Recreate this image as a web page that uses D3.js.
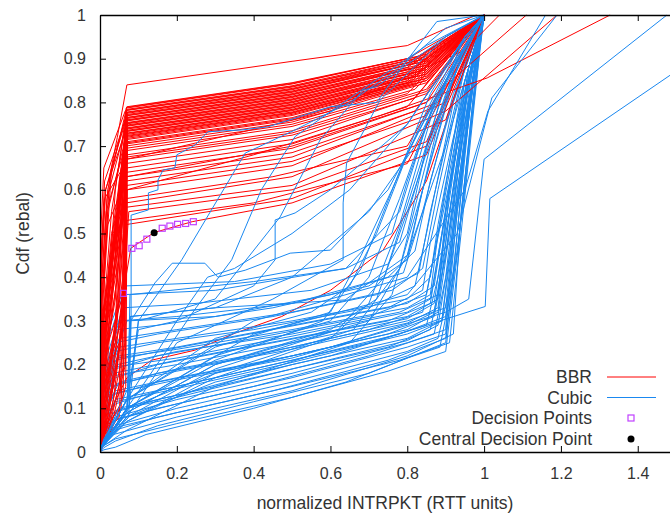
<!DOCTYPE html>
<html>
<head>
<meta charset="utf-8">
<script src="https://cdn.jsdelivr.net/npm/d3@7"></script>
<style>
  html, body { margin: 0; padding: 0; background: #fff; }
  svg { display: block; }
  text { font-family: "Liberation Sans", Arial, sans-serif; }
</style>
</head>
<body>
<svg id="chart" width="670" height="515"></svg>
<script>
// ---------- data ----------
const xTickValues = [0, 0.2, 0.4, 0.6, 0.8, 1, 1.2, 1.4];
const yTickValues = [0, 0.1, 0.2, 0.3, 0.4, 0.5, 0.6, 0.7, 0.8, 0.9, 1];
const xLabel = "normalized INTRPKT (RTT units)";
const yLabel = "Cdf (rebal)";
const seriesNames = ["BBR", "Cubic", "Decision Points", "Central Decision Point"];

// BBR curves lying inside the Cubic band (drawn first), flat [x,y,...]
const bbrLowCurves = [
  [0,0, 0.03,0.1, 0.07,0.17, 0.134,0.21, 0.247,0.233, 0.352,0.272, 0.473,0.31, 0.6,0.37, 0.737,0.462, 0.85,0.62, 0.95,0.88, 1,1]
];

// Cubic curves of the main band, flat [x,y,...]
const cubicBandCurves = [
  [0,0, 0.01,0.005, 0.04,0.011, 0.12,0.04, 0.4,0.1, 0.64,0.16, 0.8,0.215, 0.885,0.24, 0.92,0.4, 0.96,0.8, 1,1],
  [0,0, 0.01,0.01, 0.04,0.025, 0.15,0.06, 0.4,0.115, 0.7,0.18, 0.9,0.25, 0.93,0.5, 0.97,0.85, 1,1],
  [0,0, 0.01,0.015, 0.035,0.04, 0.2,0.08, 0.5,0.14, 0.8,0.22, 0.92,0.27, 0.94,0.55, 1,1],
  [0,0, 0.008,0.02, 0.04,0.05, 0.15,0.08, 0.45,0.14, 0.75,0.21, 0.9,0.26, 0.95,0.6, 0.99,0.95, 1,1],
  [0,0, 0.01,0.03, 0.04,0.06, 0.2,0.1, 0.5,0.16, 0.8,0.23, 0.88,0.26, 0.93,0.45, 0.97,0.8, 1,1],
  [0,0, 0.006,0.03, 0.03,0.07, 0.15,0.1, 0.4,0.15, 0.7,0.22, 0.87,0.27, 0.9,0.4, 0.96,0.85, 1,1],
  [0,0, 0.01,0.04, 0.04,0.08, 0.2,0.12, 0.5,0.18, 0.8,0.25, 0.9,0.28, 0.92,0.5, 0.98,0.9, 1,1],
  [0,0, 0.008,0.05, 0.035,0.09, 0.15,0.12, 0.45,0.18, 0.75,0.24, 0.86,0.28, 0.9,0.45, 0.95,0.75, 1,1],
  [0,0, 0.01,0.05, 0.05,0.1, 0.2,0.13, 0.5,0.2, 0.8,0.26, 0.89,0.3, 0.93,0.6, 1,1],
  [0,0, 0.007,0.06, 0.04,0.11, 0.15,0.14, 0.4,0.19, 0.7,0.25, 0.85,0.29, 0.88,0.4, 0.94,0.7, 1,1],
  [0,0, 0.01,0.06, 0.04,0.12, 0.2,0.15, 0.5,0.21, 0.78,0.27, 0.9,0.31, 0.93,0.55, 0.98,0.9, 1,1],
  [0,0, 0.008,0.07, 0.03,0.13, 0.15,0.16, 0.45,0.21, 0.75,0.27, 0.87,0.31, 0.9,0.45, 0.96,0.85, 1,1],
  [0,0, 0.01,0.08, 0.04,0.14, 0.2,0.17, 0.5,0.22, 0.8,0.28, 0.88,0.32, 0.91,0.5, 0.97,0.88, 1,1],
  [0,0, 0.006,0.08, 0.035,0.15, 0.15,0.18, 0.4,0.22, 0.7,0.28, 0.84,0.32, 0.87,0.45, 0.93,0.7, 1,1],
  [0,0, 0.01,0.09, 0.05,0.16, 0.2,0.19, 0.5,0.24, 0.8,0.3, 0.9,0.33, 0.92,0.5, 0.98,0.92, 1,1],
  [0,0, 0.008,0.1, 0.04,0.17, 0.15,0.2, 0.45,0.25, 0.75,0.3, 0.86,0.34, 0.89,0.5, 0.95,0.8, 1,1],
  [0,0, 0.01,0.1, 0.035,0.18, 0.2,0.21, 0.5,0.26, 0.8,0.31, 0.88,0.35, 0.9,0.55, 0.97,0.9, 1,1],
  [0,0, 0.007,0.11, 0.04,0.19, 0.15,0.22, 0.4,0.26, 0.7,0.31, 0.85,0.36, 0.88,0.5, 0.94,0.78, 1,1],
  [0,0, 0.01,0.12, 0.045,0.2, 0.2,0.23, 0.5,0.27, 0.78,0.32, 0.88,0.36, 0.91,0.6, 0.98,0.95, 1,1],
  [0,0, 0.008,0.13, 0.04,0.21, 0.15,0.23, 0.45,0.28, 0.75,0.33, 0.84,0.37, 0.86,0.48, 0.92,0.72, 1,1],
  [0,0, 0.01,0.14, 0.05,0.22, 0.2,0.24, 0.5,0.29, 0.8,0.34, 0.87,0.38, 0.9,0.55, 0.96,0.88, 1,1],
  [0,0, 0.006,0.14, 0.04,0.23, 0.15,0.25, 0.4,0.28, 0.7,0.33, 0.82,0.38, 0.85,0.5, 0.92,0.8, 1,1],
  [0,0, 0.01,0.15, 0.05,0.24, 0.2,0.26, 0.5,0.3, 0.8,0.35, 0.86,0.4, 0.88,0.52, 0.95,0.85, 1,1],
  [0,0, 0.008,0.16, 0.04,0.25, 0.15,0.27, 0.45,0.31, 0.72,0.36, 0.83,0.41, 0.86,0.55, 0.94,0.85, 1,1],
  [0,0, 0.01,0.17, 0.05,0.26, 0.2,0.28, 0.5,0.32, 0.76,0.37, 0.84,0.42, 0.88,0.6, 0.96,0.92, 1,1],
  [0,0, 0.008,0.17, 0.045,0.28, 0.15,0.29, 0.45,0.33, 0.7,0.38, 0.8,0.44, 0.84,0.6, 0.93,0.88, 1,1],
  [0,0, 0.01,0.18, 0.05,0.3, 0.2,0.31, 0.5,0.34, 0.75,0.4, 0.82,0.46, 0.86,0.62, 0.95,0.9, 1,1],
  [0,0, 0.01,0.2, 0.06,0.33, 0.25,0.34, 0.55,0.37, 0.75,0.43, 0.8,0.5, 0.85,0.7, 0.95,0.92, 1,1],
  [0,0, 0.008,0.22, 0.06,0.36, 0.3,0.37, 0.64,0.42, 0.78,0.48, 0.82,0.6, 0.9,0.85, 1,1],
  [0,0, 0.01,0.25, 0.065,0.38, 0.35,0.39, 0.6,0.43, 0.76,0.5, 0.8,0.62, 0.88,0.82, 1,1],
  [0,0, 0.01,0.15, 0.07,0.3, 0.3,0.31, 0.6,0.36, 0.79,0.41, 0.84,0.55, 0.92,0.82, 1,1],
  [0,0, 0.005,0.012, 0.04,0.03, 0.2,0.065, 0.5,0.125, 0.75,0.185, 0.9,0.23, 0.93,0.45, 0.98,0.88, 1,1],
  [0,0, 0.005,0.025, 0.035,0.055, 0.2,0.09, 0.5,0.15, 0.78,0.21, 0.91,0.25, 0.94,0.5, 0.99,0.93, 1,1],
  [0,0, 0.005,0.04, 0.04,0.075, 0.2,0.11, 0.5,0.17, 0.8,0.24, 0.9,0.27, 0.93,0.55, 0.98,0.9, 1,1],
  [0,0, 0.005,0.05, 0.04,0.095, 0.2,0.125, 0.5,0.19, 0.8,0.255, 0.88,0.29, 0.91,0.45, 0.96,0.8, 1,1],
  [0,0, 0.005,0.07, 0.04,0.115, 0.2,0.145, 0.5,0.205, 0.8,0.27, 0.89,0.3, 0.92,0.5, 0.97,0.85, 1,1],
  [0,0, 0.005,0.08, 0.04,0.135, 0.2,0.165, 0.5,0.215, 0.8,0.29, 0.87,0.32, 0.9,0.48, 0.96,0.86, 1,1],
  [0,0, 0.005,0.1, 0.04,0.155, 0.2,0.185, 0.5,0.235, 0.8,0.295, 0.88,0.33, 0.91,0.55, 0.97,0.9, 1,1],
  [0,0, 0.005,0.11, 0.04,0.175, 0.2,0.2, 0.5,0.25, 0.8,0.305, 0.87,0.34, 0.9,0.52, 0.96,0.88, 1,1],
  [0,0, 0.005,0.13, 0.04,0.195, 0.2,0.215, 0.5,0.265, 0.8,0.32, 0.86,0.35, 0.89,0.5, 0.95,0.85, 1,1],
  [0,0, 0.005,0.15, 0.045,0.215, 0.2,0.235, 0.5,0.28, 0.8,0.33, 0.86,0.36, 0.88,0.5, 0.94,0.82, 1,1]
];

// BBR curves, flat [x,y,...]
const bbrCurves = [
  [0,0, 0.003,0.3, 0.02,0.6, 0.07,0.79, 0.5,0.845, 0.8,0.9, 1,1],
  [0,0, 0.02,0.08, 0.06,0.3, 0.068,0.787, 0.5,0.842, 0.85,0.91, 1,1],
  [0,0, 0.008,0.15, 0.04,0.45, 0.069,0.784, 0.5,0.838, 0.82,0.9, 1,1],
  [0,0, 0.002,0.5, 0.01,0.65, 0.066,0.781, 0.5,0.835, 0.85,0.905, 1,1],
  [0,0, 0.004,0.25, 0.03,0.55, 0.071,0.778, 0.5,0.832, 0.8,0.89, 1,1],
  [0,0, 0.03,0.1, 0.065,0.25, 0.07,0.775, 0.5,0.829, 0.85,0.9, 1,1],
  [0,0, 0.01,0.2, 0.05,0.5, 0.068,0.772, 0.5,0.826, 0.82,0.89, 1,1],
  [0,0, 0.002,0.4, 0.015,0.6, 0.067,0.769, 0.5,0.823, 0.85,0.895, 1,1],
  [0,0, 0.005,0.2, 0.035,0.5, 0.072,0.766, 0.5,0.82, 0.8,0.88, 1,1],
  [0,0, 0.025,0.06, 0.062,0.2, 0.07,0.763, 0.5,0.817, 0.85,0.89, 1,1],
  [0,0, 0.007,0.3, 0.045,0.55, 0.069,0.76, 0.5,0.814, 0.82,0.88, 1,1],
  [0,0, 0.003,0.45, 0.012,0.62, 0.065,0.757, 0.5,0.811, 0.85,0.885, 1,1],
  [0,0, 0.006,0.18, 0.03,0.42, 0.071,0.754, 0.5,0.808, 0.8,0.87, 1,1],
  [0,0, 0.035,0.12, 0.066,0.35, 0.07,0.751, 0.5,0.805, 0.85,0.88, 1,1],
  [0,0, 0.009,0.25, 0.05,0.6, 0.068,0.748, 0.5,0.802, 0.82,0.87, 1,1],
  [0,0, 0.002,0.35, 0.018,0.58, 0.067,0.745, 0.5,0.799, 0.85,0.875, 1,1],
  [0,0, 0.005,0.22, 0.04,0.48, 0.072,0.742, 0.5,0.796, 0.8,0.86, 1,1],
  [0,0, 0.02,0.1, 0.058,0.28, 0.07,0.739, 0.5,0.793, 0.85,0.87, 1,1],
  [0,0, 0.007,0.28, 0.035,0.52, 0.069,0.736, 0.5,0.79, 0.82,0.86, 1,1],
  [0,0, 0.003,0.42, 0.014,0.6, 0.066,0.733, 0.5,0.787, 0.85,0.865, 1,1],
  [0,0, 0.006,0.16, 0.045,0.4, 0.071,0.73, 0.5,0.784, 0.8,0.85, 1,1],
  [0,0, 0.04,0.07, 0.067,0.15, 0.072,0.727, 0.5,0.781, 0.85,0.86, 1,1],
  [0,0, 0.01,0.3, 0.05,0.55, 0.068,0.724, 0.5,0.778, 0.82,0.85, 1,1],
  [0,0, 0.002,0.3, 0.02,0.55, 0.067,0.72, 0.5,0.775, 0.85,0.855, 1,1],
  [0,0, 0.005,0.2, 0.03,0.45, 0.07,0.715, 0.5,0.77, 0.8,0.84, 1,1],
  [0,0, 0.03,0.15, 0.064,0.4, 0.07,0.71, 0.5,0.765, 0.85,0.85, 1,1],
  [0,0, 0.008,0.25, 0.04,0.5, 0.069,0.705, 0.5,0.76, 0.82,0.84, 1,1],
  [0,0, 0.003,0.38, 0.016,0.55, 0.066,0.70, 0.5,0.755, 0.85,0.845, 1,1],
  [0,0, 0.006,0.2, 0.035,0.45, 0.071,0.69, 0.5,0.745, 0.8,0.82, 1,1],
  [0,0, 0.015,0.05, 0.06,0.12, 0.07,0.68, 0.5,0.735, 0.85,0.83, 1,1],
  [0,0, 0.007,0.3, 0.04,0.52, 0.068,0.67, 0.5,0.725, 0.82,0.81, 1,1],
  [0,0, 0.002,0.45, 0.012,0.58, 0.066,0.66, 0.5,0.715, 0.85,0.82, 1,1],
  [0,0, 0.005,0.15, 0.045,0.4, 0.07,0.65, 0.5,0.705, 0.8,0.79, 1,1],
  [0,0, 0.025,0.1, 0.063,0.3, 0.069,0.64, 0.5,0.695, 0.85,0.8, 1,1],
  [0,0, 0.008,0.28, 0.03,0.5, 0.068,0.63, 0.5,0.685, 0.82,0.78, 1,1],
  [0,0, 0.003,0.35, 0.02,0.52, 0.067,0.62, 0.5,0.675, 0.88,0.8, 1,1],
  [0,0, 0.006,0.2, 0.04,0.45, 0.07,0.61, 0.5,0.665, 0.85,0.77, 1,1],
  [0,0, 0.035,0.08, 0.066,0.2, 0.071,0.60, 0.5,0.655, 0.9,0.8, 1,1],
  [0,0, 0.009,0.25, 0.045,0.45, 0.069,0.58, 0.45,0.63, 0.8,0.70, 1,1],
  [0,0, 0.004,0.3, 0.03,0.45, 0.068,0.56, 0.5,0.61, 0.9,0.76, 1,1],
  [0,0, 0.02,0.12, 0.06,0.35, 0.075,0.55, 0.5,0.6, 0.85,0.71, 1,1],
  [0,0, 0.004,0.2, 0.05,0.33, 0.06,0.36, 0.08,0.466, 0.14,0.502, 0.24,0.527, 0.5,0.57, 0.85,0.68, 1,1],
  [0,0, 0.005,0.3, 0.025,0.63, 0.045,0.72, 0.07,0.84, 0.5,0.894, 0.8,0.93, 0.98,1],
  [0,0, 0.005,0.3, 0.04,0.5, 0.07,0.6, 0.4,0.68, 0.73,0.77, 1.008,0.856, 1.328,1],
  [0,0, 0.004,0.25, 0.05,0.5, 0.07,0.63, 0.5,0.7, 0.85,0.8, 1.11,1],
  [0,0, 0.003,0.2, 0.03,0.45, 0.068,0.57, 0.5,0.63, 0.9,0.78, 1.19,1],
  [0,0, 0.006,0.3, 0.05,0.55, 0.07,0.67, 0.6,0.78, 0.95,0.92, 1.04,1],
  [0,0, 0.01,0.06, 0.055,0.1, 0.065,0.52, 0.5,0.58, 0.85,0.7, 1,1],
  [0,0, 0.012,0.04, 0.05,0.08, 0.07,0.53, 0.4,0.57, 0.8,0.66, 1,1],
  [0,0, 0.01,0.05, 0.03,0.2, 0.05,0.4, 0.069,0.7885, 0.5,0.8435, 0.83,0.905, 1,1],
  [0,0, 0.015,0.15, 0.045,0.3, 0.06,0.5, 0.07,0.7825, 0.5,0.8365, 0.85,0.9, 1,1],
  [0,0, 0.005,0.08, 0.02,0.35, 0.04,0.6, 0.068,0.7765, 0.5,0.8305, 0.8,0.885, 1,1],
  [0,0, 0.025,0.2, 0.05,0.25, 0.065,0.45, 0.071,0.7705, 0.5,0.8245, 0.85,0.895, 1,1],
  [0,0, 0.01,0.1, 0.04,0.3, 0.055,0.55, 0.068,0.7645, 0.5,0.8185, 0.82,0.88, 1,1],
  [0,0, 0.012,0.4, 0.03,0.65, 0.067,0.7585, 0.5,0.8125, 0.85,0.885, 1,1],
  [0,0, 0.05,0.15, 0.06,0.45, 0.07,0.7525, 0.5,0.8065, 0.8,0.865, 1,1],
  [0,0, 0.02,0.25, 0.04,0.35, 0.055,0.65, 0.069,0.7465, 0.5,0.8005, 0.85,0.875, 1,1],
  [0,0, 0.008,0.06, 0.035,0.25, 0.06,0.4, 0.07,0.7405, 0.5,0.7945, 0.82,0.86, 1,1],
  [0,0, 0.018,0.18, 0.05,0.35, 0.066,0.55, 0.071,0.7345, 0.5,0.7885, 0.85,0.865, 1,1],
  [0,0, 0.006,0.1, 0.025,0.3, 0.045,0.5, 0.068,0.7285, 0.5,0.7825, 0.8,0.845, 1,1],
  [0,0, 0.03,0.22, 0.055,0.3, 0.067,0.5, 0.07,0.7225, 0.5,0.7765, 0.85,0.855, 1,1],
  [0,0, 0.012,0.12, 0.035,0.38, 0.05,0.62, 0.069,0.7175, 0.5,0.7725, 0.82,0.845, 1,1],
  [0,0, 0.045,0.2, 0.062,0.35, 0.07,0.7075, 0.5,0.7625, 0.85,0.85, 1,1],
  [0,0, 0.02,0.3, 0.05,0.45, 0.068,0.695, 0.5,0.75, 0.82,0.83, 1,1],
  [0,0, 0.01,0.15, 0.04,0.25, 0.06,0.55, 0.07,0.675, 0.5,0.73, 0.85,0.825, 1,1]
];

// Cubic curves outside the main band (drawn last), flat [x,y,...]
const cubicUpperCurves = [
  [0,0, 0.002,0.01, 0.075,0.08, 0.081,0.3, 0.081,0.542, 0.126,0.554, 0.126,0.593, 0.151,0.6, 0.151,0.622, 0.164,0.645, 0.195,0.65, 0.2,0.68, 0.247,0.702, 0.281,0.733, 0.369,0.737, 0.437,0.744, 0.508,0.764, 0.6,0.79, 0.72,0.8, 0.807,0.905, 0.877,0.985, 1,1],
  [0,0, 0.002,0.01, 0.075,0.1, 0.1,0.3, 0.213,0.44, 0.326,0.607, 0.378,0.684, 0.508,0.737, 0.65,0.8, 0.78,0.88, 0.9,0.97, 1,1],
  [0,0, 0.002,0.01, 0.07,0.12, 0.2,0.3, 0.4,0.38, 0.456,0.44, 0.456,0.531, 0.508,0.547, 0.6,0.6, 0.8,0.75, 0.95,0.95, 1,1],
  [0,0, 0.002,0.01, 0.075,0.15, 0.08,0.3, 0.143,0.387, 0.188,0.432, 0.273,0.432, 0.307,0.4, 0.378,0.416, 0.495,0.455, 0.6,0.462, 0.75,0.6, 0.9,0.85, 1,1],
  [0,0, 0.002,0.01, 0.07,0.1, 0.1,0.3, 0.3,0.35, 0.469,0.538, 0.573,0.714, 0.685,0.828, 0.72,0.836, 0.9,0.95, 1,1],
  [0,0, 0.002,0.01, 0.07,0.08, 0.2,0.25, 0.45,0.35, 0.633,0.44, 0.633,0.57, 0.642,0.661, 0.729,0.805, 0.9,0.95, 1,1],
  [0,0, 0.002,0.01, 0.072,0.1, 0.078,0.36, 0.4,0.39, 0.64,0.42, 0.78,0.55, 0.85,0.75, 0.95,0.95, 1,1],
  [0,0, 0.002,0.01, 0.07,0.1, 0.08,0.31, 0.3,0.33, 0.5,0.4, 0.7,0.55, 0.82,0.7, 0.93,0.9, 1,1],
  [0,0, 0.002,0.01, 0.07,0.09, 0.078,0.31, 0.3,0.33, 0.638,0.348, 0.8,0.45, 0.9,0.7, 1,1],
  [0,0, 0.002,0.01, 0.07,0.12, 0.1,0.28, 0.2,0.3, 0.28,0.4, 0.35,0.42, 0.5,0.5, 0.65,0.6, 0.8,0.75, 0.95,0.95, 1,1],
  [0,0, 0.002,0.01, 0.07,0.1, 0.25,0.33, 0.343,0.44, 0.42,0.6, 0.508,0.722, 0.7,0.84, 0.85,0.93, 1,1],
  [0,0, 0.002,0.01, 0.07,0.12, 0.3,0.26, 0.55,0.32, 0.65,0.38, 0.72,0.5, 0.8,0.68, 0.9,0.86, 1,1],
  [0,0, 0.002,0.01, 0.07,0.1, 0.3,0.22, 0.6,0.3, 0.7,0.4, 0.78,0.58, 0.87,0.8, 1,1],
  [0,0, 0.002,0.01, 0.07,0.12, 0.3,0.24, 0.6,0.32, 0.68,0.45, 0.76,0.6, 0.85,0.78, 0.93,0.92, 1,1],
  [0,0, 0.002,0.01, 0.07,0.09, 0.3,0.2, 0.6,0.28, 0.72,0.35, 0.8,0.55, 0.9,0.82, 1,1],
  [0,0, 0.002,0.01, 0.07,0.07, 0.3,0.17, 0.6,0.26, 0.7,0.34, 0.78,0.52, 0.86,0.76, 0.94,0.93, 1,1],
  [0,0, 0.002,0.01, 0.07,0.08, 0.3,0.19, 0.62,0.28, 0.74,0.4, 0.82,0.62, 0.9,0.84, 1,1],
  [0,0, 0.002,0.01, 0.07,0.05, 0.3,0.15, 0.65,0.25, 0.76,0.36, 0.84,0.6, 0.92,0.86, 1,1],
  [0,0, 0.002,0.01, 0.07,0.1, 0.3,0.21, 0.58,0.3, 0.68,0.42, 0.77,0.62, 0.86,0.82, 0.95,0.95, 1,1],
  [0,0, 0.002,0.01, 0.07,0.07, 0.3,0.18, 0.66,0.28, 0.78,0.42, 0.86,0.7, 0.93,0.9, 1,1],
  [0,0, 0.002,0.01, 0.07,0.09, 0.3,0.2, 0.7,0.3, 0.8,0.45, 0.88,0.75, 0.95,0.93, 1,1],
  [0,0, 0.01,0.02, 0.07,0.08, 0.3,0.16, 0.6,0.22, 0.885,0.3, 1.003,0.333, 1.015,0.58, 1.484,0.862],
  [0,0, 0.01,0.02, 0.07,0.1, 0.3,0.18, 0.6,0.24, 0.9,0.32, 0.96,0.35, 1.0,0.67, 1.476,1.0],
  [0,0, 0.01,0.03, 0.07,0.12, 0.4,0.3, 0.8,0.4, 0.95,0.6, 1.01,0.78, 1.16,1.0],
  [0,0, 0.01,0.02, 0.07,0.1, 0.4,0.27, 0.8,0.36, 0.93,0.5, 1.02,0.81, 1.19,1.0]
];

const decisionX = [0.061, 0.083, 0.102, 0.122, 0.162, 0.182, 0.202, 0.223, 0.243];
const decisionY = [0.363, 0.466, 0.472, 0.487, 0.512, 0.517, 0.521, 0.523, 0.527];
const centralX = [0.141];
const centralY = [0.502];

// ---------- drawing ----------
const mLeft = 100, mRight = 670, mTop = 15, mBottom = 452;
const xMax = 1.484;
const colors = { bbr: "#ff0000", cubic: "#1a88f0", decision: "#c040ff", central: "#000000" };
const textColor = "#333";

const svg = d3.select("#chart");
const x = d3.scaleLinear().domain([0, xMax]).range([mLeft, mRight]);
const y = d3.scaleLinear().domain([0, 1]).range([mBottom, mTop]);

svg.append("defs").append("clipPath").attr("id", "plotclip")
  .append("rect").attr("x", mLeft).attr("y", mTop - 1)
  .attr("width", mRight - mLeft).attr("height", mBottom - mTop + 2);

const toPairs = arr => { const p = []; for (let i = 0; i < arr.length; i += 2) p.push([arr[i], arr[i + 1]]); return p; };
const line = d3.line().x(d => x(d[0])).y(d => y(d[1]));

const plot = svg.append("g").attr("clip-path", "url(#plotclip)");
const layers = [
  [bbrLowCurves, colors.bbr],
  [cubicBandCurves, colors.cubic],
  [bbrCurves, colors.bbr],
  [cubicUpperCurves, colors.cubic]
];
layers.forEach(([curves, col]) => {
  plot.append("g").selectAll("path").data(curves).join("path")
    .attr("d", d => line(toPairs(d)))
    .attr("fill", "none").attr("stroke", col).attr("stroke-width", 1);
});

// decision points
const sq = 6;
plot.append("g").selectAll("rect").data(decisionX.map((v, i) => [v, decisionY[i]])).join("rect")
  .attr("x", d => x(d[0]) - sq / 2).attr("y", d => y(d[1]) - sq / 2)
  .attr("width", sq).attr("height", sq)
  .attr("fill", "none").attr("stroke", colors.decision).attr("stroke-width", 1.2);
plot.append("g").selectAll("circle").data(centralX.map((v, i) => [v, centralY[i]])).join("circle")
  .attr("cx", d => x(d[0])).attr("cy", d => y(d[1])).attr("r", 3.5)
  .attr("fill", colors.central);

// axes
const tickFont = "16px";
const bigFont = "17.5px";
const xAxis = d3.axisBottom(x).tickValues(xTickValues).tickFormat(d3.format("")).tickSizeInner(-6).tickSizeOuter(0).tickPadding(16);
const yAxis = d3.axisLeft(y).tickValues(yTickValues).tickFormat(d3.format("")).tickSizeInner(-6).tickSizeOuter(0).tickPadding(14);
const xTop = d3.axisTop(x).tickValues(xTickValues).tickFormat("").tickSizeInner(-6).tickSizeOuter(0);

const gx = svg.append("g").attr("transform", `translate(0,${mBottom})`).call(xAxis);
const gy = svg.append("g").attr("transform", `translate(${mLeft},0)`).call(yAxis);
const gt = svg.append("g").attr("transform", `translate(0,${mTop})`).call(xTop);
[gx, gy, gt].forEach(g => {
  g.select(".domain").attr("stroke", "#000").attr("stroke-width", 1.3);
  g.selectAll(".tick line").attr("stroke", "#000").attr("stroke-width", 1);
  g.selectAll(".tick text").attr("fill", textColor).style("font-size", tickFont)
    .style("font-family", '"Liberation Sans", Arial, sans-serif');
});

// axis titles
svg.append("text").attr("x", (mLeft + mRight) / 2).attr("y", 509)
  .attr("text-anchor", "middle").attr("fill", textColor).style("font-size", bigFont)
  .text(xLabel);
svg.append("text").attr("transform", `translate(29,${(mTop + mBottom) / 2}) rotate(-90)`)
  .attr("text-anchor", "middle").attr("fill", textColor).style("font-size", bigFont)
  .text(yLabel);

// legend
const legendRows = [377, 397.5, 418, 439];
const lg = svg.append("g");
seriesNames.forEach((name, i) => {
  const ly = legendRows[i];
  lg.append("text").attr("x", 592).attr("y", ly).attr("dy", "0.35em")
    .attr("text-anchor", "end").attr("fill", textColor).style("font-size", bigFont).text(name);
  if (i === 0 || i === 1) {
    lg.append("line").attr("x1", 607).attr("x2", 656).attr("y1", ly).attr("y2", ly)
      .attr("stroke", i === 0 ? colors.bbr : colors.cubic).attr("stroke-width", 1);
  } else if (i === 2) {
    lg.append("rect").attr("x", 631 - sq / 2).attr("y", ly - sq / 2).attr("width", sq).attr("height", sq)
      .attr("fill", "none").attr("stroke", colors.decision).attr("stroke-width", 1.2);
  } else {
    lg.append("circle").attr("cx", 631).attr("cy", ly).attr("r", 3.5).attr("fill", colors.central);
  }
});
</script>
</body>
</html>
